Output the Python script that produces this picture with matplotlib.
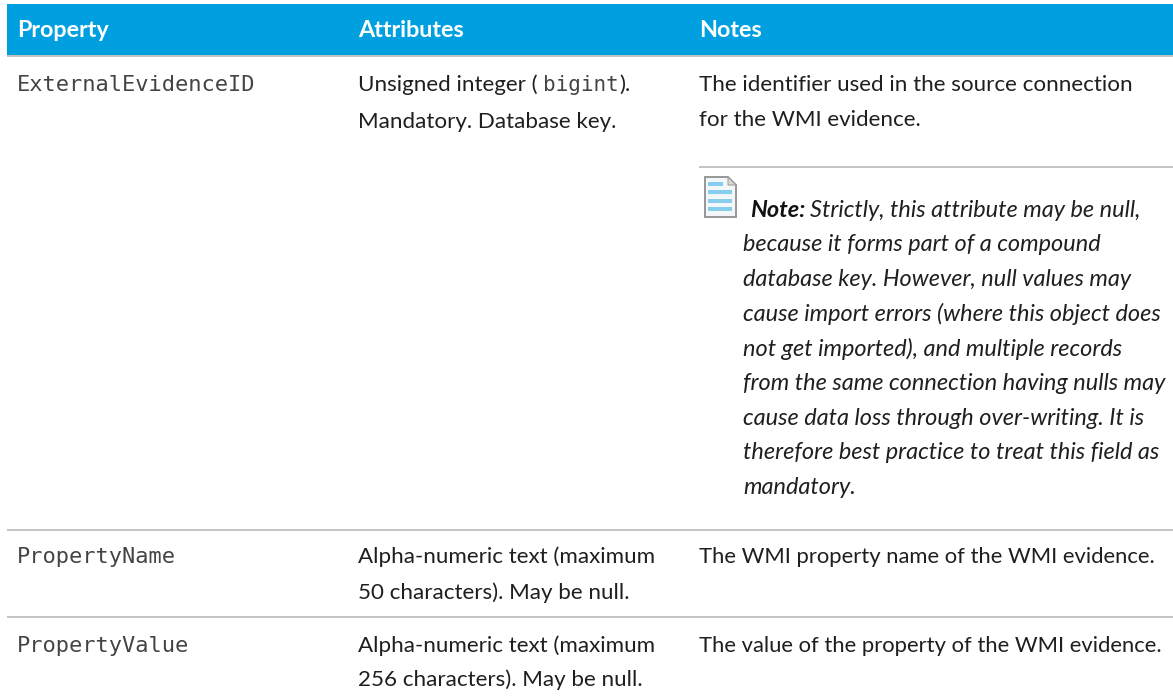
import matplotlib
matplotlib.use('Agg')
import matplotlib.pyplot as plt
from matplotlib.patches import Rectangle, Polygon

W, H = 1173, 700
AZUL = '#009fe0'
TEXTO = '#1f1f1f'
MONO = '#444444'
LINHA = '#c4c4c4'
FONTE = 'Lato'
FS = 16.1
FS_ITALICO = 16.9
FS_CABECALHO = 16.8
FS_MONO = 15.8

# Conteudo da tabela
cabecalho = ['Property', 'Attributes', 'Notes']
propriedades = ['ExternalEvidenceID', 'PropertyName', 'PropertyValue']
atributos = [
    ['Mandatory. Database key.'],
    ['Alpha-numeric text (maximum', '50 characters). May be null.'],
    ['Alpha-numeric text (maximum', '256 characters). May be null.'],
]
notas = [
    ['The identifier used in the source connection', 'for the WMI evidence.'],
    ['The WMI property name of the WMI evidence.'],
    ['The value of the property of the WMI evidence.'],
]
nota_italico = [
    'because it forms part of a compound',
    'database key. However, null values may',
    'cause import errors (where this object does',
    'not get imported), and multiple records',
    'from the same connection having nulls may',
    'cause data loss through over-writing. It is',
    'therefore best practice to treat this field as',
    'mandatory.',
]

fig = plt.figure(figsize=(W / 100, H / 100), dpi=100)
ax = fig.add_axes([0, 0, 1, 1])
ax.set_xlim(0, W)
ax.set_ylim(H, 0)
ax.axis('off')


def escreve(x, y, t, **kw):
    kw.setdefault('color', TEXTO)
    kw.setdefault('fontsize', FS)
    kw.setdefault('family', FONTE)
    ax.text(x, y, t, va='baseline', **kw)


# Cabecalho
ax.add_patch(Rectangle((7, 4), W - 7, 51, color=AZUL, lw=0))
for x, t in zip([17, 358, 699], cabecalho):
    escreve(x, 37, t, color='white', fontweight='bold', fontsize=FS_CABECALHO)

# Linhas da tabela
for x0, y in [(7, 56), (699, 167), (7, 530), (7, 617)]:
    ax.add_patch(Rectangle((x0, y - 1), W - x0, 2, color=LINHA, lw=0))

# Coluna de propriedades
for y, t in zip([91, 563, 652], propriedades):
    escreve(17, y, t, color=MONO, fontsize=FS_MONO, family='DejaVu Sans Mono')

# Atributos
escreve(358, 91, 'Unsigned integer (')
escreve(543, 91, 'bigint', color=MONO, fontsize=15, family='DejaVu Sans Mono')
escreve(619, 91, ').')
for ys, linhas in zip([[128], [563, 599], [652, 686]], atributos):
    for y, t in zip(ys, linhas):
        escreve(358, y, t)

# Notas
for ys, linhas in zip([[91, 126], [563], [652]], notas):
    for y, t in zip(ys, linhas):
        escreve(699, y, t, fontsize=FS if len(ys) > 1 else 15.8)

# Nota em italico
escreve(750, 217, 'Note:', style='italic', fontweight='bold', color='#111111', fontsize=FS_ITALICO)
escreve(810, 217, 'Strictly, this attribute may be null,', style='italic', fontsize=FS_ITALICO)
for y, t in zip([251, 286, 321, 356, 390, 425, 459, 494], nota_italico):
    escreve(743, y, t, style='italic', fontsize=FS_ITALICO)

# Icone da nota
ax.add_patch(Polygon([(705, 177), (728, 177), (736, 185), (736, 217), (705, 217)],
                     closed=True, fc='#f4f7f9', ec='#8f8f8f', lw=1.3))
ax.add_patch(Polygon([(728, 177), (736, 185), (728, 185)], closed=True, fc='#d8d8d8', ec='#9a9a9a', lw=0.7))
for y in [184, 192, 201, 209]:
    ax.add_patch(Rectangle((708, y - 2), 24 if y > 184 else 15, 4, color='#86cdee', lw=0))

fig.savefig('out.png', dpi=100)
